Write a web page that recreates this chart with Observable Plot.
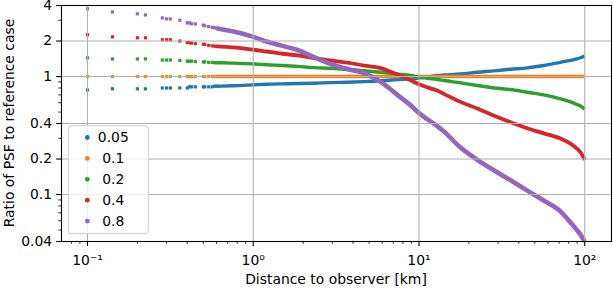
<!DOCTYPE html>
<html><head><meta charset="utf-8">
<script src="https://cdn.jsdelivr.net/npm/d3@7"></script>
<script src="https://cdn.jsdelivr.net/npm/@observablehq/plot@0.6"></script>
<style>body{margin:0;background:#fff}#chart{position:relative;width:613px;height:289px}</style>
</head><body><div id="chart"></div><script>
// series names (legend)
const seriesNames = ["0.05", "0.1", "0.2", "0.4", "0.8"];
const colors = ["#1f77b4", "#ff7f0e", "#2ca02c", "#d62728", "#9467bd"];
const lineWidths = [3.4, 3.4, 3.4, 3.8, 4.6];

// sparse distances near the observer [km]
const sparseX = [0.1, 0.1414, 0.2, 0.2236, 0.2828, 0.3, 0.3162, 0.3606, 0.4, 0.4123, 0.4243, 0.4472, 0.5, 0.5099, 0.5385, 0.5657, 0.5831, 0.6];
const sparse005 = [0.77, 0.787, 0.787, 0.787, 0.80, 0.80, 0.80, 0.80, 0.80, 0.818, 0.818, 0.818, 0.818, 0.818, 0.818, 0.818, 0.828, 0.828];
const sparse01  = [1, 1, 1, 1, 1, 1, 1, 1, 1, 1, 1, 1, 1, 1, 1, 1, 1, 1];
const sparse02  = [1.44, 1.41, 1.41, 1.41, 1.38, 1.38, 1.38, 1.37, 1.35, 1.35, 1.35, 1.34, 1.33, 1.33, 1.32, 1.32, 1.31, 1.31];
const sparse04  = [2.26, 2.17, 2.13, 2.13, 2.05, 2.05, 2.05, 2.0, 1.94, 1.94, 1.92, 1.9, 1.88, 1.87, 1.84, 1.82, 1.81, 1.8];
const sparse08  = [3.75, 3.53, 3.4, 3.33, 3.14, 3.08, 3.08, 3.0, 2.85, 2.85, 2.8, 2.79, 2.73, 2.69, 2.65, 2.61, 2.59, 2.57];

// dense distances [km]
const denseX = [0.6, 0.75, 1, 1.2, 1.5, 1.85, 2.33, 2.93, 3.7, 4.66, 5.87, 7.4, 8.9, 10, 11.2, 12.9, 14.2, 17.8, 22.5, 28.4, 35.7, 45, 56.6, 71.4, 82, 89.7, 95, 100];
const dense005 = [0.828, 0.835, 0.85, 0.86, 0.867, 0.872, 0.878, 0.888, 0.895, 0.905, 0.92, 0.943, 0.955, 0.97, 0.99, 1.02, 1.03, 1.05, 1.087, 1.117, 1.153, 1.185, 1.24, 1.32, 1.37, 1.41, 1.45, 1.49];
const dense01  = [1, 1, 1, 1, 1, 1, 1, 1, 1, 1, 1, 1, 1, 1, 1, 1, 1, 1, 1, 1, 1, 1, 1, 1, 1, 1, 1, 1];
const dense02  = [1.31, 1.30, 1.28, 1.26, 1.24, 1.22, 1.19, 1.175, 1.146, 1.12, 1.087, 1.05, 1.02, 0.99, 0.967, 0.945, 0.925, 0.884, 0.84, 0.80, 0.776, 0.736, 0.70, 0.647, 0.61, 0.58, 0.56, 0.53];
const dense04  = [1.80, 1.77, 1.69, 1.63, 1.56, 1.51, 1.43, 1.37, 1.31, 1.24, 1.18, 1.04, 0.93, 0.86, 0.81, 0.76, 0.71, 0.61, 0.535, 0.465, 0.41, 0.365, 0.33, 0.298, 0.27, 0.245, 0.225, 0.197];
const dense08  = [2.57, 2.42, 2.17, 1.98, 1.82, 1.68, 1.46, 1.28, 1.16, 1.07, 0.9, 0.7, 0.57, 0.49, 0.435, 0.38, 0.34, 0.25, 0.197, 0.16, 0.132, 0.108, 0.089, 0.072, 0.058, 0.05, 0.045, 0.04];

// ticks
const majorX = [0.1, 1, 10, 100];
const xTickLabels = ["10\u207B\u00B9", "10\u2070", "10\u00B9", "10\u00B2"];
const minorX = [0.08, 0.09, 0.2, 0.3, 0.4, 0.5, 0.6, 0.7, 0.8, 0.9, 2, 3, 4, 5, 6, 7, 8, 9, 20, 30, 40, 50, 60, 70, 80, 90];
const majorY = [0.04, 0.1, 0.2, 0.4, 1, 2, 4];
const yTickLabels = ["0.04", "0.1", "0.2", "0.4", "1", "2", "4"];
const minorY = [0.05, 0.06, 0.07, 0.08, 0.09, 0.3, 0.5, 0.6, 0.7, 0.8, 0.9, 3];
const gridY = [0.1, 0.2, 0.4, 1, 2];

const sparseYs = [sparse005, sparse01, sparse02, sparse04, sparse08];
const denseYs = [dense005, dense01, dense02, dense04, dense08];

const marks = [];
seriesNames.forEach((name, i) => {
  const sRows = sparseX.map((x, j) => ({x, y: sparseYs[i][j]}));
  const dRows = denseX.map((x, j) => ({x, y: denseYs[i][j]}));
  marks.push(Plot.line(dRows, {x: "x", y: "y", stroke: colors[i], strokeWidth: lineWidths[i], strokeLinejoin: "round", strokeLinecap: "butt", curve: "monotone-x"}));
  marks.push(Plot.dot(sRows, {x: "x", y: "y", symbol: "square", r: 1.8, fill: colors[i], stroke: "none"}));
});
marks.push(Plot.gridX({ticks: majorX, stroke: "#b0b0b0", strokeOpacity: 1, strokeWidth: 1.1}));
marks.push(Plot.gridY({ticks: gridY, stroke: "#b0b0b0", strokeOpacity: 1, strokeWidth: 1.1}));
marks.push(Plot.axisX({ticks: majorX, tickFormat: d => xTickLabels[majorX.indexOf(d)], tickSize: 4.9, tickPadding: 8.5, label: null, strokeWidth: 1.1}));
marks.push(Plot.axisX({ticks: minorX, tickFormat: () => "", tickSize: 2.8, label: null, strokeWidth: 0.8}));
marks.push(Plot.axisY({ticks: majorY, tickFormat: d => yTickLabels[majorY.indexOf(d)], tickSize: 4.9, tickPadding: 4.5, label: null, strokeWidth: 1.1}));
marks.push(Plot.axisY({ticks: minorY, tickFormat: () => "", tickSize: 2.8, label: null, strokeWidth: 0.8}));
marks.push(Plot.frame({stroke: "black", strokeWidth: 1.1}));

const svg = Plot.plot({
  width: 613, height: 289,
  marginLeft: 61, marginRight: 2, marginTop: 5, marginBottom: 48,
  x: {type: "log", domain: [0.0697, 145], label: null},
  y: {type: "log", domain: [0.04, 4], label: null},
  style: {fontFamily: "DejaVu Sans", fontSize: "13.9px", color: "black", background: "white", overflow: "visible"},
  marks
});
document.getElementById("chart").appendChild(svg);

const s = d3.select(svg);
s.append("text").attr("x", 336).attr("y", 284).attr("text-anchor", "middle")
  .attr("fill", "black").style("font", "13.9px 'DejaVu Sans'").text("Distance to observer [km]");
s.append("text").attr("transform", "translate(13.5,123) rotate(-90)").attr("text-anchor", "middle")
  .attr("fill", "black").style("font", "13.9px 'DejaVu Sans'").text("Ratio of PSF to reference case");

// legend
const lg = s.append("g");
lg.append("rect").attr("x", 68.3).attr("y", 125.7).attr("width", 80).attr("height", 108)
  .attr("rx", 3).attr("fill", "white").attr("fill-opacity", 0.8).attr("stroke", "#cccccc").attr("stroke-width", 1);
seriesNames.forEach((name, i) => {
  lg.append("circle").attr("cx", 87.3).attr("cy", 137.5 + i * 20.9).attr("r", 2.4).attr("fill", colors[i]);
  lg.append("text").attr("x", 113.3).attr("y", 142.3 + i * 20.9).attr("fill", "black")
    .style("font", "13.9px 'DejaVu Sans'").text(name);
});
</script></body></html>
